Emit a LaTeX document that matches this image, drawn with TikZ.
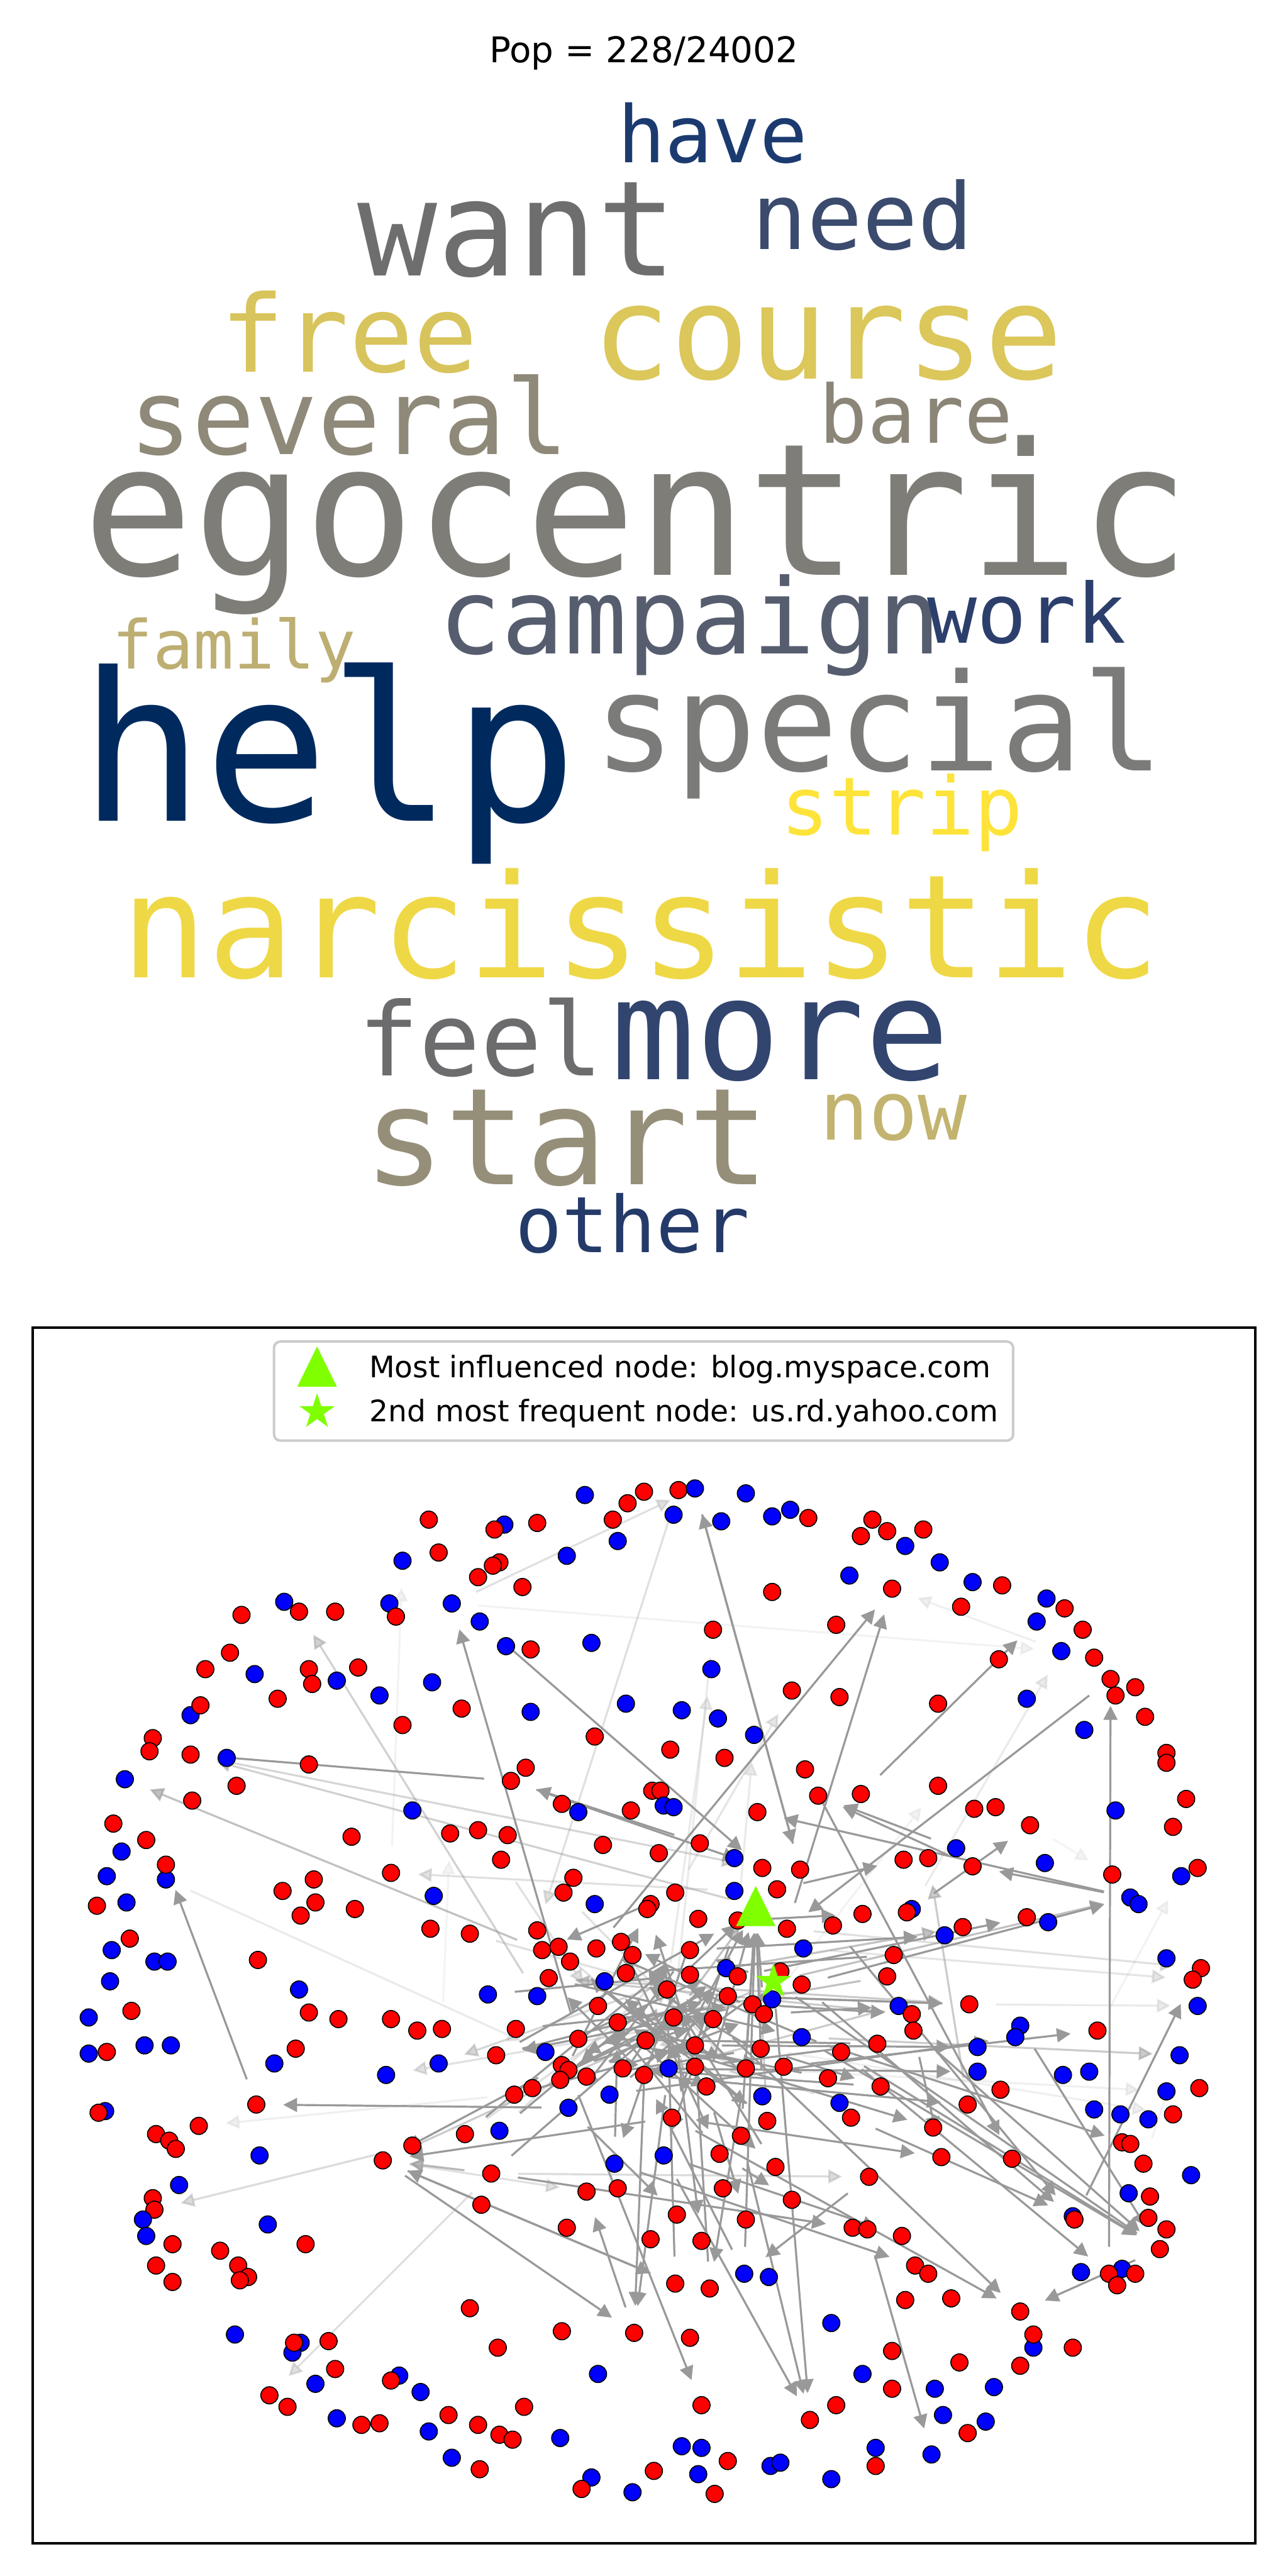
\documentclass[tikz,border=0pt]{standalone}
\usepackage{fontspec}
\setmainfont{DejaVu Sans}
\newfontfamily\cloudfont{DejaVu Sans Mono}
\usetikzlibrary{arrows.meta,shapes.geometric,backgrounds}

\definecolor{nr}{RGB}{255,0,0}
\definecolor{nb}{RGB}{0,0,255}
\definecolor{lawn}{RGB}{127,255,0}
\definecolor{edgegray}{RGB}{153,153,153}
\definecolor{cHave}{HTML}{1B3A6F}
\definecolor{cWant}{HTML}{6E6E6F}
\definecolor{cNeed}{HTML}{3B4B6E}
\definecolor{cFree}{HTML}{D8C45C}
\definecolor{cCourse}{HTML}{DBC75A}
\definecolor{cSeveral}{HTML}{8E8978}
\definecolor{cBare}{HTML}{8A8577}
\definecolor{cEgo}{HTML}{7E7D78}
\definecolor{cCamp}{HTML}{565D6E}
\definecolor{cWork}{HTML}{2C3F6C}
\definecolor{cFamily}{HTML}{BDAE72}
\definecolor{cHelp}{HTML}{002A5E}
\definecolor{cSpecial}{HTML}{7B7B79}
\definecolor{cStrip}{HTML}{FEE43A}
\definecolor{cNarc}{HTML}{EFD846}
\definecolor{cFeel}{HTML}{6C6C6E}
\definecolor{cMore}{HTML}{32456F}
\definecolor{cStart}{HTML}{958F79}
\definecolor{cNow}{HTML}{C2B36F}
\definecolor{cOther}{HTML}{243A69}

\newcommand{\inflmark}[1]{\fill[lawn] #1 ++(0,-12.2) -- ++(-12,24.4) -- ++(24,0) -- cycle;}

\begin{document}
\begin{tikzpicture}[x=0.022959cm, y=-0.022959cm,
    dot/.style={circle, draw=black, line width=0.4pt, minimum size=0.24cm, inner sep=0pt},
    hub/.style={circle, minimum size=0.24cm, inner sep=0pt},
    edge/.style={draw=edgegray, line width=0.8pt, -{Triangle[length=5.5pt,width=5.5pt]},
        shorten <=0.25cm, shorten >=0.25cm},
    word/.style={anchor=base, inner sep=0pt},
    starmark/.style={star, star points=5, star point ratio=2.618, fill=lawn, draw=none,
        inner sep=0pt, minimum size=0.52cm}]
    \useasboundingbox (0,0) rectangle (784,1568);

    \node[anchor=base, inner sep=0pt, font=\fontsize{14.1}{17}\selectfont] (title) at (392,37.9) {Pop = 228/24002};

    \foreach \w/\cx/\by/\sz/\col in {
        have/433.8/98.9/31.4/cHave, want/315/168/52.8/cWant, need/525/151.6/36.6/cNeed,
        free/212.5/226.3/42.5/cFree, course/503.8/230.8/51.9/cCourse,
        several/212.5/276.7/41.5/cSeveral, bare/557.5/269.8/32/cBare,
        egocentric/387.5/350/73.2/cEgo, campaign/420/398.1/41.5/cCamp,
        work/625/391.3/32.9/cWork, family/142.5/407.3/26.8/cFamily,
        help/200/499.9/82.3/cHelp, special/535/469.2/53.8/cSpecial,
        strip/548.8/508.1/32/cStrip, narcissistic/390/595.2/57.2/cNarc,
        feel/292.5/654.8/40.5/cFeel, more/475/657.1/55.9/cMore,
        start/345/721.2/53.6/cStart, now/543.8/693.7/32.5/cNow, other/385/762.5/31/cOther}{
        \node[word, text=\col, font={\cloudfont\fontsize{\sz}{\sz}\selectfont}] (w\w) at (\cx,\by) {\w};
    }

    \draw[line width=0.9pt] (20,808) rectangle (764,1548);

    \draw[draw=black!20, line width=1pt, fill=white, fill opacity=0.8, rounded corners=2.5pt]
        (166.8,816.6) rectangle (616.7,876.9);
    \inflmark{(193,831.8)}
    \node[starmark] (legstar) at (193,859.4) {};
    \node[anchor=base west, inner sep=0pt, font=\fontsize{11.8}{14}\selectfont] (leg1) at (224.5,838.6)
        {Most influenced node: blog.myspace.com};
    \node[anchor=base west, inner sep=0pt, font=\fontsize{11.8}{14}\selectfont] (leg2) at (224.5,865.3)
        {2nd most frequent node: us.rd.yahoo.com};

    \node[hub] (v421) at (460,1160.2) {};
    \node[hub] (v422) at (470.8,1206.2) {};
    \foreach \x/\y/\c [count=\i] in {
        261/925/nr, 267/945/nr, 245/950/nb, 173/975/nb, 182/981/nr, 204/981/nr, 147/983/nr, 237/976/nb,
        241/984/nr, 275/976/nb, 140/1006/nr, 125/1016/nr, 155/1019/nb, 188/1016/nr, 190/1025/nr, 205/1023/nb,
        218/1015/nr, 263/1024/nb, 231/1032/nb, 169/1034/nr, 281/1040/nr, 116/1044/nb, 122/1038/nr, 93/1058/nr,
        91/1066/nr, 116/1068/nr, 138/1070/nb, 188/1074/nr, 245/1050/nr, 76/1083/nb, 144/1087/nr, 117/1096/nr,
        251/1102/nb, 69/1110/nr, 356/910/nb, 382/915/nr, 392/908/nr, 413/907/nr, 423/906/nb, 454/909/nb,
        470/923/nb, 481/919/nb, 492/924/nr, 410/922/nb, 439/926/nb, 373/925/nr, 376/938/nb, 307/928/nb,
        301/931/nr, 327/927/nr, 304/951/nr, 300/953/nr, 291/960/nr, 345/947/nb, 318/966/nr, 470/969/nr,
        292/987/nb, 308/1002/nb, 323/1004/nr, 360/1000/nb, 434/992/nr, 509/989/nr, 433/1016/nb, 482/1029/nr,
        511/1033/nr, 323/1042/nb, 381/1037/nb, 415/1041/nb, 437/1046/nb, 459/1056/nb, 362/1057/nr, 408/1065/nr,
        441/1070/nr, 320/1076/nr, 311/1084/nr, 490/1077/nr, 498/1093/nr, 397/1090/nr, 402/1090/nr, 404/1099/nb,
        410/1100/nb, 342/1098/nr, 352/1103/nb, 384/1102/nr, 461/1103/nr, 291/1114/nr, 531/925/nr, 540/932/nr,
        524/935/nr, 562/931/nr, 551/941/nb, 572/951/nb, 517/959/nb, 543/967/nr, 592/963/nb, 610/965/nr,
        585/978/nr, 637/973/nb, 648/979/nr, 631/987/nb, 659/992/nr, 646/1005/nb, 666/1009/nr, 676/1022/nr,
        691/1027/nr, 679/1032/nr, 697/1045/nr, 608/1010/nr, 571/1037/nr, 625/1034/nb, 660/1053/nb, 710/1067/nr,
        710/1073/nr, 571/1087/nr, 524/1092/nr, 593/1101/nr, 606/1100/nr, 722/1095/nr, 679/1102/nb, 627/1111/nr,
        714/1112/nr, 89/1120/nr, 74/1127/nb, 65/1142/nb, 101/1144/nb, 101/1135/nr, 59/1160/nr, 77/1158/nb,
        68/1187/nb, 79/1180/nr, 94/1194/nb, 102/1194/nb, 67/1206/nb, 80/1224/nr, 54/1228/nb, 54/1250/nb,
        65/1249/nr, 88/1245/nb, 104/1245/nb, 64/1285/nb, 60/1286/nr, 95/1299/nr, 103/1303/nr, 107/1308/nr,
        121/1294/nr, 156/1281/nr, 158/1312/nb, 157/1193/nr, 182/1211/nb, 188/1225/nr, 206/1229/nr, 180/1247/nr,
        167/1256/nb, 172/1151/nr, 191/1144/nr, 192/1158/nr, 183/1166/nr, 216/1162/nr, 214/1118/nr, 238/1140/nr,
        264/1154/nb, 262/1174/nr, 238/1229/nr, 254/1236/nr, 269/1235/nr, 235/1263/nb, 267/1256/nb, 251/1306/nr,
        233/1315/nr, 274/1116/nr, 309/1117/nr, 305/1132/nr, 367/1123/nr, 401/1128/nr, 426/1122/nr, 447/1131/nb,
        464/1137/nr, 487/1138/nr, 349/1143/nr, 343/1152/nr, 362/1159/nb, 411/1152/nr, 447/1151/nb, 473/1150/nr,
        396/1159/nr, 394/1162/nr, 286/1177/nr, 327/1175/nr, 425/1168/nr, 449/1169/nr, 479/1174/nr, 507/1172/nr,
        330/1187/nr, 340/1185/nr, 347/1194/nr, 363/1186/nr, 378/1182/nr, 385/1190/nr, 420/1187/nr, 489/1186/nb,
        334/1204/nr, 368/1206/nb, 381/1201/nr, 420/1202/nr, 442/1198/nb, 449/1203/nr, 475/1200/nr, 488/1208/nr,
        297/1214/nb, 327/1215/nb, 364/1221/nr, 406/1211/nr, 443/1215/nr, 458/1220/nr, 470/1217/nb, 465/1226/nr,
        314/1235/nr, 376/1231/nr, 410/1228/nr, 434/1229/nr, 352/1241/nr, 393/1242/nr, 423/1245/nr, 463/1247/nr,
        488/1240/nb, 512/1249/nr, 302/1251/nr, 332/1249/nb, 342/1257/nr, 346/1260/nr, 341/1266/nr, 357/1264/nr,
        379/1259/nr, 407/1259/nb, 423/1258/nr, 392/1263/nr, 454/1259/nr, 477/1258/nr, 504/1265/nr, 430/1270/nr,
        324/1271/nr, 313/1275/nr, 371/1275/nb, 464/1276/nb, 511/1280/nb, 346/1283/nb, 409/1289/nr, 467/1291/nr,
        283/1299/nr, 304/1297/nb, 451/1300/nr, 404/1312/nb, 438/1311/nr, 374/1317/nb, 472/1319/nr, 299/1323/nr,
        550/1132/nr, 565/1131/nr, 582/1125/nb, 592/1136/nr, 636/1134/nb, 677/1141/nr, 719/1142/nb, 729/1137/nr,
        688/1155/nb, 693/1159/nb, 525/1165/nr, 555/1162/nb, 552/1164/nr, 625/1167/nr, 638/1170/nb, 586/1173/nr,
        575/1178/nb, 544/1190/nr, 540/1203/nr, 710/1192/nb, 731/1198/nr, 726/1205/nr, 729/1221/nb, 547/1221/nb,
        555/1226/nr, 556/1236/nr, 590/1220/nr, 621/1233/nb, 618/1240/nb, 668/1236/nr, 534/1244/nr, 595/1246/nb,
        595/1261/nb, 718/1251/nb, 647/1263/nb, 663/1261/nb, 536/1270/nr, 518/1289/nr, 609/1272/nr, 589/1281/nr,
        710/1273/nb, 730/1271/nr, 666/1284/nb, 682/1287/nb, 699/1290/nb, 714/1287/nr, 568/1295/nr, 683/1304/nr,
        688/1305/nr, 573/1313/nr, 616/1314/nr, 696/1317/nr, 725/1324/nb, 529/1325/nr, 109/1330/nb, 93/1338/nr,
        94/1345/nr, 87/1351/nb, 89/1361/nb, 105/1366/nr, 163/1354/nb, 186/1366/nr, 134/1370/nr, 95/1379/nr,
        105/1389/nr, 145/1379/nr, 151/1386/nr, 146/1388/nr, 143/1421/nb, 183/1426/nb, 178/1432/nb, 179/1426/nr,
        200/1425/nr, 204/1442/nr, 192/1451/nb, 164/1458/nr, 175/1465/nr, 205/1472/nb, 220/1476/nr, 231/1475/nr,
        243/1446/nb, 238/1449/nr, 256/1456/nb, 273/1470/nr, 261/1480/nb, 275/1496/nb, 293/1342/nr, 357/1334/nr,
        376/1332/nr, 440/1332/nr, 482/1339/nr, 345/1356/nr, 412/1348/nr, 454/1351/nr, 396/1363/nr, 427/1364/nr,
        453/1384/nb, 468/1386/nb, 411/1390/nr, 432/1393/nr, 286/1405/nr, 342/1419/nr, 386/1420/nr, 420/1423/nr,
        303/1429/nr, 506/1414/nb, 364/1445/nb, 427/1464/nr, 319/1465/nr, 291/1476/nr, 304/1482/nr, 312/1485/nr,
        341/1484/nb, 493/1473/nr, 509/1464/nr, 292/1503/nr, 415/1489/nb, 427/1490/nb, 443/1498/nr, 469/1501/nb,
        475/1499/nb, 398/1504/nr, 425/1506/nb, 360/1508/nb, 354/1515/nr, 385/1517/nb, 435/1518/nr, 506/1509/nb,
        687/1335/nb, 700/1337/nr, 699/1350/nr, 710/1357/nr, 706/1369/nr, 653/1349/nb, 654/1351/nr, 519/1356/nr,
        528/1357/nr, 549/1361/nr, 557/1379/nr, 565/1384/nr, 658/1383/nb, 683/1381/nb, 675/1384/nr, 691/1384/nr,
        680/1391/nr, 551/1400/nr, 579/1399/nr, 621/1407/nr, 629/1429/nb, 629/1421/nr, 621/1440/nr, 653/1429/nr,
        543/1431/nr, 584/1438/nr, 525/1445/nb, 543/1454/nr, 569/1454/nb, 605/1453/nb, 574/1470/nb, 600/1474/nb,
        589/1481/nr, 533/1490/nb, 533/1501/nr, 567/1494/nb}{
        \node[dot, fill=\c] (v\i) at (\x,\y) {};
    }

    \begin{scope}[on background layer]
    \fill[white] (0,0) rectangle (784,1568);
    \foreach \a/\b/\o in {
        210/5/0.45, 26/177/0.4, 421/26/0.45, 193/30/0.6, 75/26/1, 57/177/1, 221/10/1, 160/3/0.12,
        10/39/0.3, 38/188/0.3, 178/39/1, 39/178/1, 196/94/1, 191/94/1, 10/102/0.12, 182/64/0.25,
        175/75/1, 399/104/1, 115/100/1, 104/191/1, 268/102/0.2, 146/126/1, 246/146/1, 125/228/0.2,
        229/169/1, 247/169/1, 183/160/0.3, 242/145/0.15, 256/169/0.7, 182/193/1, 220/404/1, 247/404/1,
        226/399/1, 226/389/1, 225/389/1, 282/389/1, 284/389/1, 294/390/1, 389/404/1, 393/420/1,
        265/260/1, 265/85/1, 208/265/1, 268/120/1, 225/305/1, 391/278/1, 282/306/1, 200/278/0.25,
        191/277/0.3, 296/258/0.5, 222/359/1, 234/359/1, 237/356/1, 169/355/1, 169/359/1, 359/344/1,
        310/353/1, 256/392/1, 252/370/1, 251/370/1, 256/310/0.35, 169/344/0.3, 353/236/1, 353/421/1,
        355/212/1, 356/223/1, 168/313/0.35, 256/332/0.3, 355/169/1, 102/94/0.15, 75/177/1, 259/77/1,
        260/77/1, 76/307/1, 208/391/1, 192/390/1, 190/267/1, 184/257/1,
        244/421/1, 224/421/1, 240/421/1, 216/421/1, 251/421/1, 212/421/1, 219/421/0.6, 234/421/1,
        237/421/1, 248/421/0.5, 422/389/1, 422/370/1, 422/236/1, 422/199/1, 422/265/0.6, 422/169/0.5,
        199/246/1, 204/243/1, 212/231/1, 203/234/1, 218/255/1, 222/205/1, 233/216/1, 235/195/1,
        236/201/1, 240/186/1, 243/213/1, 248/202/1, 253/211/1, 254/218/1, 213/241/1, 206/229/1,
        214/227/1, 238/203/1, 224/232/1, 216/197/1, 205/252/1, 190/247/1, 189/254/1, 211/237/1,
        221/238/1, 232/206/1, 230/220/1, 195/248/1, 197/253/1, 201/225/1, 209/204/1, 217/214/1,
        227/190/1, 228/205/1, 241/219/1, 187/216/0.3, 172/211/0.3, 188/235/0.3, 180/244/0.3, 231/185/1,
        244/198/1, 255/212/1, 250/199/0.3, 249/204/0.3, 245/218/0.3, 239/222/1, 226/196/1, 283/213/1,
        274/203/1, 275/218/0.6, 287/221/1, 293/233/1, 280/236/0.5, 281/201/0.5, 204/167/0.4, 220/166/0.3,
        212/63/0.2, 219/61/0.2, 190/70/0.2, 216/280/1, 214/281/1,
        206/270/1, 213/283/1, 199/273/1, 204/272/0.6, 223/288/1, 235/287/1, 224/293/1, 238/286/1,
        225/290/0.5, 249/199/1, 256/205/1, 250/212/1, 242/223/1, 227/213/1, 236/296/1, 233/289/1,
        243/285/1, 201/283/0.5, 222/303/1, 247/306/1, 254/395/1, 252/394/1, 230/364/1, 246/349/1,
        219/352/1, 240/350/1, 253/347/1,
        215/114/0.12, 286/263/0.12, 120/262/0.1, 308/290/0.12, 283/279/0.2, 237/297/0.15, 224/302/0.15,
        165/170/0.1}{
        \draw[edge, opacity=\o] (v\a) -- (v\b);
    }
    \end{scope}

    \inflmark{(v421.center)}
    \node[starmark] (freqstar) at (v422) {};
\end{tikzpicture}
\end{document}
